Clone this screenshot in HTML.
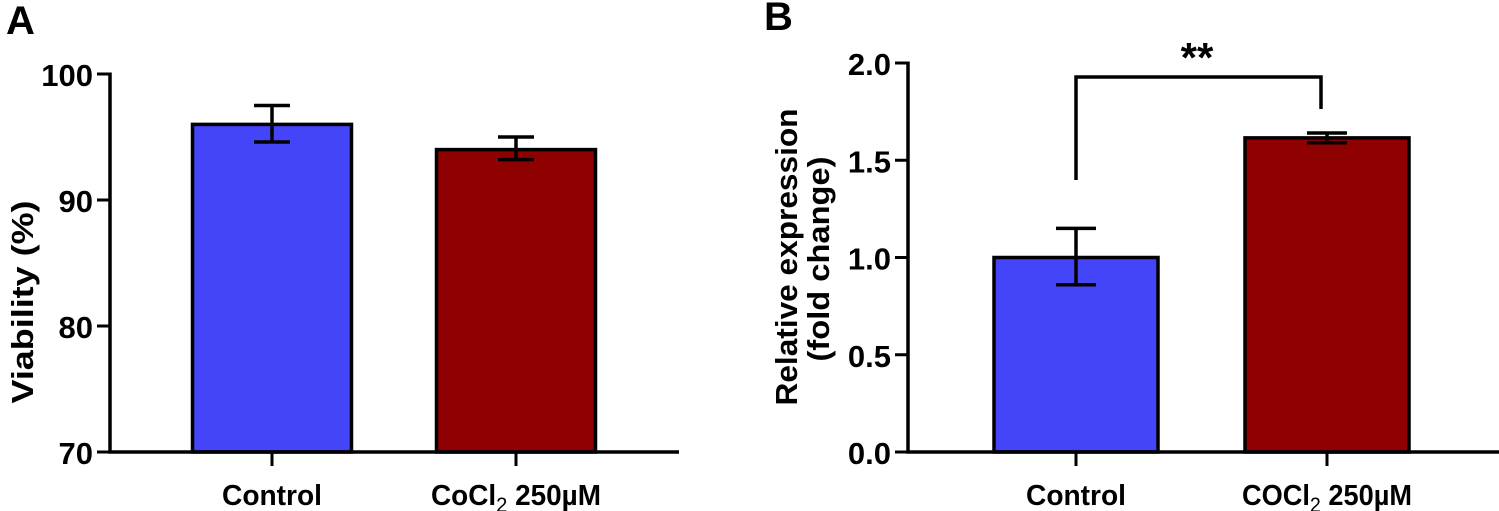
<!DOCTYPE html>
<html><head><meta charset="utf-8"><style>
html,body{margin:0;padding:0;background:#fff;}
svg{display:block;font-family:"Liberation Sans",Arial,sans-serif;font-weight:bold;}
</style></head><body>
<svg id="fig" width="1499" height="511" viewBox="0 0 1499 511"></svg>
<script>
const categoriesA = ["Control", "CoCl2 250µM"];
const valuesA = [96.0, 94.0];
const errUpA = [97.5, 95.0];
const errLoA = [94.6, 93.2];
const ticksA = [70, 80, 90, 100];
const tickLabelsA = ["70", "80", "90", "100"];

const categoriesB = ["Control", "COCl2 250µM"];
const valuesB = [1.0, 1.615];
const errUpB = [1.15, 1.64];
const errLoB = [0.86, 1.59];
const ticksB = [0, 0.5, 1.0, 1.5, 2.0];
const tickLabelsB = ["0.0", "0.5", "1.0", "1.5", "2.0"];
const sigB = ["**"];

const NS = "http://www.w3.org/2000/svg";
const svg = document.getElementById("fig");
function mk(tag, attrs, parent, text) {
  const e = document.createElementNS(NS, tag);
  for (const k in attrs) e.setAttribute(k, attrs[k]);
  if (text !== undefined) e.textContent = text;
  (parent || svg).appendChild(e);
  return e;
}
const colors = ["#4444f8", "#8f0000"];

function panel(cfg) {
  const g = mk("g", {});
  
  
  const y = v => cfg.y0 + (v - cfg.vmin) / (cfg.vmax - cfg.vmin) * (cfg.y1 - cfg.y0);
  cfg.vals.forEach((v, i) => {
    const cx = cfg.centers[i];
    const b = mk("rect", {x: cx - cfg.bw / 2, y: y(v), width: cfg.bw, height: y(cfg.vmin) - y(v), fill: colors[i], stroke: "#000", "stroke-width": 3.5}, g);
    
    
    const e = mk("path", {d: `M${cx} ${y(cfg.lo[i])}V${y(cfg.up[i])}M${cx - cfg.cap} ${y(cfg.up[i])}h${2 * cfg.cap}M${cx - cfg.cap} ${y(cfg.lo[i])}h${2 * cfg.cap}`, stroke: "#000", "stroke-width": 3.5, fill: "none"}, g);
    
    
    const t = mk("line", {x1: cx, x2: cx, y1: y(cfg.vmin), y2: y(cfg.vmin) + 14, stroke: "#000", "stroke-width": 3}, g);
    
    
    const c = cfg.cats[i];
    const lab = mk("text", {x: cx, y: 505, "text-anchor": "middle", "font-size": 29}, g);
    
    
    if (c.indexOf("2") >= 0) {
      lab.setAttribute("textLength", 170);
      lab.setAttribute("lengthAdjust", "spacingAndGlyphs");
      const parts = c.split("2 ");
      mk("tspan", {}, lab, parts[0]);
      mk("tspan", {dy: 7, "font-size": 21, "font-weight": "normal"}, lab, "2");
      mk("tspan", {dy: -7}, lab, " " + parts[1]);
    } else {
      lab.textContent = c;
      lab.setAttribute("textLength", 100);
      lab.setAttribute("lengthAdjust", "spacingAndGlyphs");
    }
  });
  const ax = mk("path", {d: `M${cfg.ax} ${y(cfg.vmax) - 1.5}V${y(cfg.vmin)}H${cfg.axEnd}`, stroke: "#000", "stroke-width": 3.5, fill: "none"}, g);
  
  
  cfg.ticks.forEach((v, i) => {
    const t = mk("line", {x1: cfg.ax - 13, x2: cfg.ax, y1: y(v), y2: y(v), stroke: "#000", "stroke-width": 3}, g);
    
    
    const l = mk("text", {x: cfg.ax - 17, y: y(v) + 12, "text-anchor": "end", "font-size": 31}, g, cfg.tickLabels[i]);
    
    
  });
  return y;
}

panel({name: "panel-a", cats: categoriesA, vals: valuesA, up: errUpA, lo: errLoA, vmin: 70, vmax: 100, y0: 452, y1: 74,
  centers: [272, 516], bw: 159, cap: 18, ax: 110, axEnd: 679, ticks: ticksA, tickLabels: tickLabelsA});
panel({name: "panel-b", cats: categoriesB, vals: valuesB, up: errUpB, lo: errLoB, vmin: 0, vmax: 2, y0: 452, y1: 63,
  centers: [1076, 1327], bw: 164, cap: 20, ax: 908, axEnd: 1499, ticks: ticksB, tickLabels: tickLabelsB});

const br = mk("path", {d: `M1076 180V77H1321V109`, stroke: "#000", "stroke-width": 3.5, fill: "none"});


const st = mk("text", {x: 1197, y: 72, "text-anchor": "middle", "font-size": 42}, svg, sigB[0]);



const la = mk("text", {x: 6, y: 34, "font-size": 40}, svg, "A");


const lb = mk("text", {x: 764, y: 30, "font-size": 40}, svg, "B");


const ta = mk("text", {transform: "translate(33 302) rotate(-90)", "text-anchor": "middle", "font-size": 31, textLength: 203, lengthAdjust: "spacingAndGlyphs"}, svg, "Viability (%)");


const tb1 = mk("text", {transform: "translate(797 257) rotate(-90)", "text-anchor": "middle", "font-size": 31, textLength: 297, lengthAdjust: "spacingAndGlyphs"}, svg, "Relative expression");


const tb2 = mk("text", {transform: "translate(829 259) rotate(-90)", "text-anchor": "middle", "font-size": 31, textLength: 205, lengthAdjust: "spacingAndGlyphs"}, svg, "(fold change)");


</script>
</body></html>
